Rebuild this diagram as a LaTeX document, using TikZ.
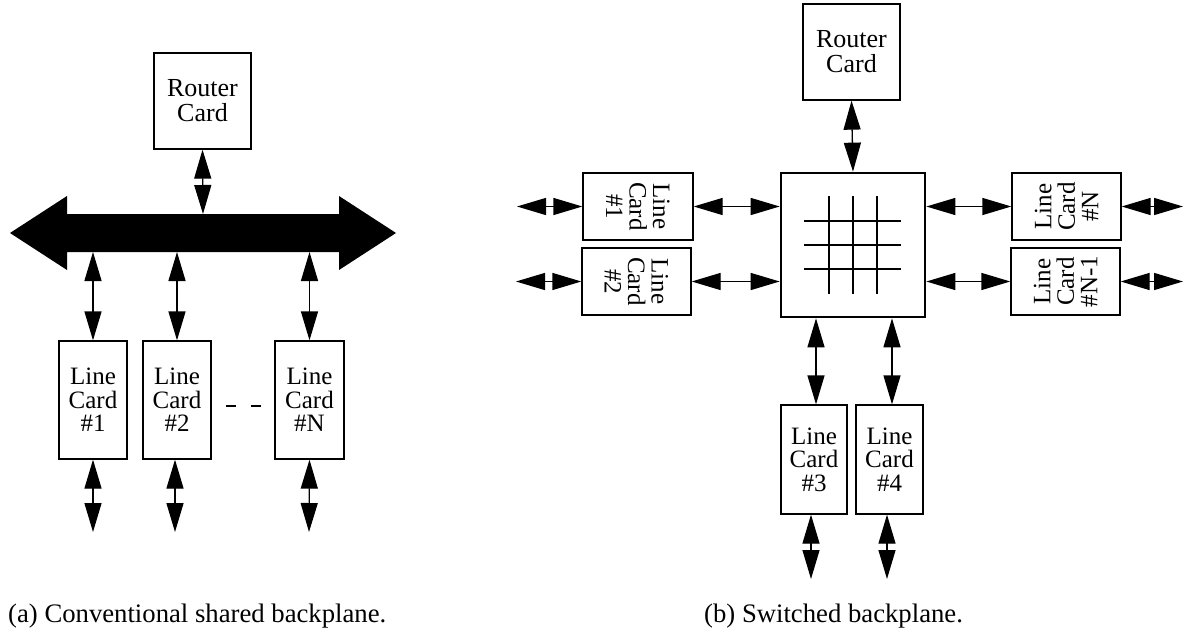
\documentclass[tikz,border=0pt]{standalone}
\usepackage{fontspec}
\setmainfont{Liberation Serif}
\usetikzlibrary{arrows.meta}
\tikzset{
  box/.style={draw, line width=1.3pt, inner sep=0pt},
  cardtxt/.style={align=center, inner sep=0pt, font=\fontsize{25}{23.5}\selectfont},
  routertxt/.style={align=center, inner sep=0pt, font=\fontsize{26}{25}\selectfont},
  dbl/.style={{Triangle[length=29pt,width=17pt]}-{Triangle[length=29pt,width=17pt]}, line width=1.3pt},
  grid line/.style={line width=1.3pt},
  caption/.style={anchor=base west, inner sep=0pt, font=\fontsize{26.7}{28}\selectfont}
}
\begin{document}
\begin{tikzpicture}[x=1pt,y=-1pt]
\useasboundingbox (0,0) rectangle (1183,629);

% ---------------- (a) shared backplane ----------------
\node[box, minimum width=97pt, minimum height=96pt] (rA) at (202.5,101) {};
\node[routertxt] (rAt) at (rA) {Router\\Card};

% the bus, a wide double-headed arrow
\fill (10,233) -- (67,196) -- (67,214) -- (339,214) -- (339,196) -- (396,233)
      -- (339,270) -- (339,252) -- (67,252) -- (67,270) -- cycle;
\coordinate (busT) at (203,214);
\coordinate (busB) at (200,252);

\node[box, minimum width=68pt, minimum height=118pt] (lc1) at (93,400) {};
\node[box, minimum width=68pt, minimum height=118pt] (lc2) at (177,400) {};
\node[box, minimum width=69pt, minimum height=118pt] (lcN) at (309.5,400) {};
\node[cardtxt] (lc1t) at (lc1) {Line\\Card\\\#1};
\node[cardtxt] (lc2t) at (lc2) {Line\\Card\\\#2};
\node[cardtxt] (lcNt) at (lcN) {Line\\Card\\\#N};

\coordinate (dotsL) at (226,406);
\coordinate (dotsR) at (261,406);
\draw[line width=1.3pt, dash pattern=on 10pt off 15pt] (dotsL) -- (dotsR);

\draw[dbl] (rA.south) -- (busT);
\draw[dbl] (lc1.north) -- (lc1.north |- busB);
\draw[dbl] (lc2.north) -- (lc2.north |- busB);
\draw[dbl] (lcN.north) -- (lcN.north |- busB);

\coordinate (o1) at (93,532);
\coordinate (o2) at (175,532);
\coordinate (oN) at (309,532);
\draw[dbl] (lc1.south) -- (o1);
\draw[dbl] (lc2.south -| o2) -- (o2);
\draw[dbl] (lcN.south) -- (oN);

\node[caption] (capA) at (8,622) {(a) Conventional shared backplane.};

% ---------------- (b) switched backplane ----------------
\node[box, minimum width=97pt, minimum height=96pt] (rB) at (851.5,52) {};
\node[routertxt] (rBt) at (rB) {Router\\Card};

\node[draw, line width=2.7pt, inner sep=0pt, minimum width=144pt, minimum height=144pt] (sw) at (853,245) {};
% crossbar inside the switch fabric
\foreach \dx in {-24,0,24}
  \draw[grid line] ([xshift=\dx pt, yshift=49pt]sw.center) -- ([xshift=\dx pt, yshift=-49pt]sw.center);
\foreach \dy in {-24,0,24}
  \draw[grid line] ([xshift=-49pt, yshift=\dy pt]sw.center) -- ([xshift=48pt, yshift=\dy pt]sw.center);

\draw[dbl] (rB.south) -- (sw.north);

\node[box, minimum width=110pt, minimum height=67pt] (L1) at (638,206.5) {};
\node[box, minimum width=109pt, minimum height=67pt] (L2) at (636.5,281.5) {};
\node[cardtxt, rotate=-90] (L1t) at (L1) {Line\\Card\\\#1};
\node[cardtxt, rotate=-90] (L2t) at (L2) {Line\\Card\\\#2};

\node[box, minimum width=109pt, minimum height=67pt] (LN) at (1066.5,206.5) {};
\node[box, minimum width=109pt, minimum height=67pt] (LN1) at (1065.5,281.5) {};
\node[cardtxt, rotate=90] (LNt) at (LN) {Line\\Card\\\#N};
\node[cardtxt, rotate=90] (LN1t) at (LN1) {Line\\Card\\\#N-1};

\node[box, minimum width=66pt, minimum height=109pt] (L3) at (814,459.5) {};
\node[box, minimum width=67pt, minimum height=109pt] (L4) at (889.5,459.5) {};
\node[cardtxt] (L3t) at (L3) {Line\\Card\\\#3};
\node[cardtxt] (L4t) at (L4) {Line\\Card\\\#4};

\draw[dbl] (L1.east) -- (L1.east -| sw.west);
\draw[dbl] (L2.east) -- (L2.east -| sw.west);
\draw[dbl] (LN.west) -- (LN.west -| sw.east);
\draw[dbl] (LN1.west) -- (LN1.west -| sw.east);
\draw[dbl] ([xshift=2pt]L3.north) -- ([xshift=2pt]L3.north |- sw.south);
\draw[dbl] ([xshift=2.5pt]L4.north) -- ([xshift=2.5pt]L4.north |- sw.south);

\coordinate (e1) at (517,206.5);
\coordinate (e2) at (516,281.5);
\coordinate (eN) at (1183,206.5);
\coordinate (eN1) at (1183,281.5);
\coordinate (e3) at (811,579);
\coordinate (e4) at (887,579);
\draw[dbl] (L1.west) -- (e1);
\draw[dbl] (L2.west) -- (e2);
\draw[dbl] (LN.east) -- (eN);
\draw[dbl] (LN1.east) -- (eN1);
\draw[dbl] (L3.south -| e3) -- (e3);
\draw[dbl] (L4.south -| e4) -- (e4);

\node[caption] (capB) at (704,622) {(b) Switched backplane.};
\end{tikzpicture}
\end{document}
